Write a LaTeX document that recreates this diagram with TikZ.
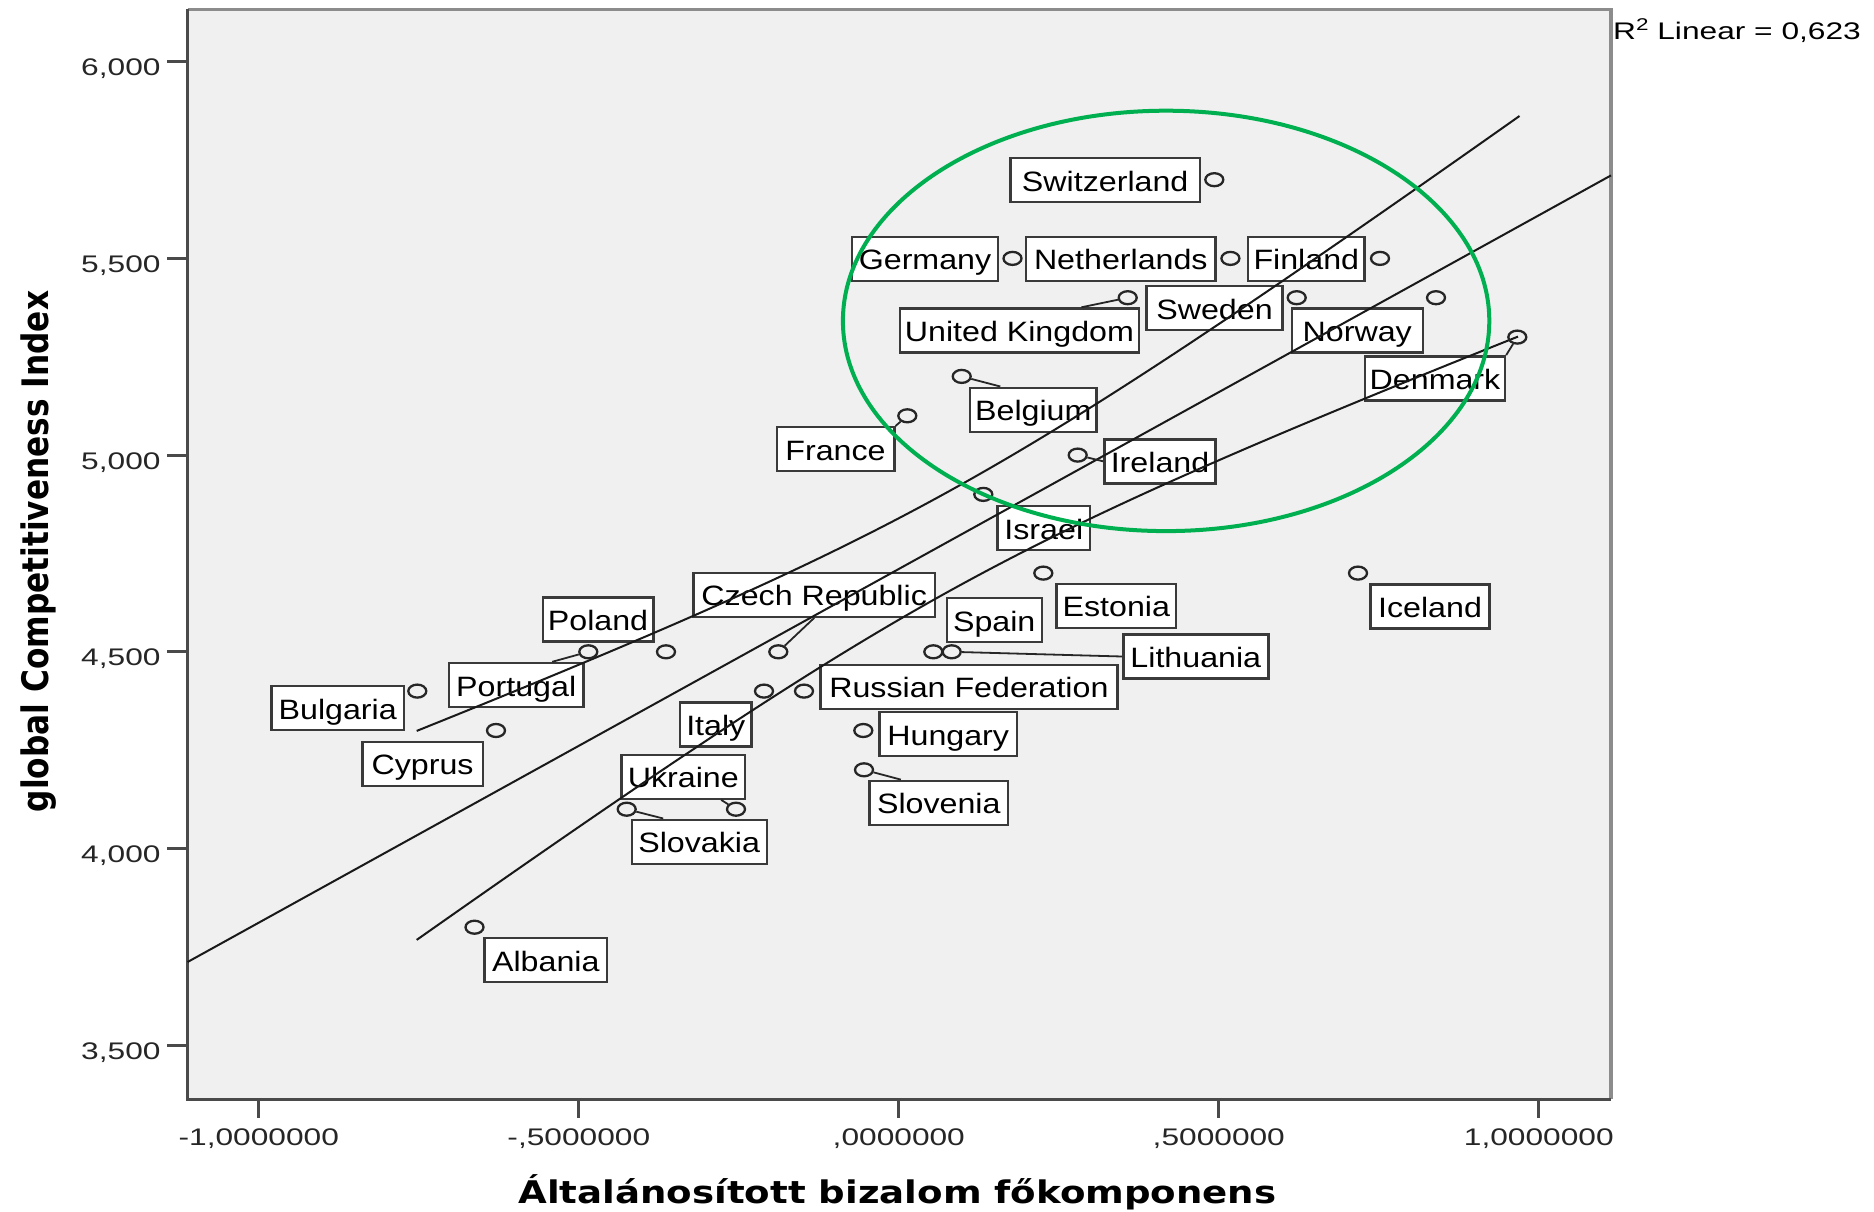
\documentclass[tikz,border=0pt]{standalone}
\usepackage{fontspec}
\usepackage{graphicx}
\usetikzlibrary{shapes.geometric}
\newfontfamily\labfont[FakeStretch=1.15]{Liberation Sans}
\newfontfamily\tickfont[FakeStretch=1.32]{Liberation Sans}
\newfontfamily\xtitlefont[FakeStretch=1.19]{DejaVu Sans}
\newfontfamily\ytitlefont{DejaVu Sans}
\definecolor{plotbg}{HTML}{F0F0F0}
\definecolor{boxgray}{HTML}{3A3A3A}
\definecolor{ringgreen}{HTML}{00B050}
\definecolor{framedark}{HTML}{4A4A4A}
\definecolor{framelight}{HTML}{8C8C8C}
\begin{document}
\begin{tikzpicture}[x=1pt,y=-1pt,
  lab/.style={draw=boxgray, fill=white, line width=2.4pt, rectangle, inner sep=0pt,
    minimum height=44pt, font=\labfont\fontsize{28}{28}\selectfont,
    text height=27pt, text depth=5pt},
  pt/.style={draw=black!85, line width=2.3pt, ellipse, inner sep=0pt,
    minimum width=18pt, minimum height=13pt},
  leader/.style={draw=black!85, line width=1.8pt},
  band/.style={draw=black!90, line width=2pt},
  ytick/.style={font=\tickfont\fontsize{24}{24}\selectfont, anchor=base east, text=black!85, inner sep=0pt},
  xtick/.style={font=\tickfont\fontsize{24}{24}\selectfont, anchor=base, text=black!85, inner sep=0pt},
  tickline/.style={draw=framedark, line width=3pt}
]
\useasboundingbox (0,0) rectangle (1874,1212);
\fill[white] (0,0) rectangle (1874,1212);
% plot area
\fill[plotbg] (187.6,9.5) rectangle (1611,1099);
\draw[framelight, line width=3.5pt] (187.6,9.5) -- (1611,9.5) -- (1611,1099);
\draw[framedark, line width=3pt] (187.6,9.5) -- (187.6,1099) -- (1611,1099);

% y ticks
\draw[tickline] (167.4,61.7) -- (187.6,61.7);
\draw[tickline] (167.4,258.4) -- (187.6,258.4);
\draw[tickline] (167.4,455.1) -- (187.6,455.1);
\draw[tickline] (167.4,651.8) -- (187.6,651.8);
\draw[tickline] (167.4,848.5) -- (187.6,848.5);
\draw[tickline] (167.4,1045.2) -- (187.6,1045.2);
\node[ytick] (yt6000) at (160.7,75.7) {6,000};
\node[ytick] (yt5500) at (160.7,272.4) {5,500};
\node[ytick] (yt5000) at (160.7,469.1) {5,000};
\node[ytick] (yt4500) at (160.7,665.8) {4,500};
\node[ytick] (yt4000) at (160.7,862.5) {4,000};
\node[ytick] (yt3500) at (160.7,1059.2) {3,500};

% x ticks
\draw[tickline] (258.8,1099) -- (258.8,1118);
\draw[tickline] (578.8,1099) -- (578.8,1118);
\draw[tickline] (898.8,1099) -- (898.8,1118);
\draw[tickline] (1218.8,1099) -- (1218.8,1118);
\draw[tickline] (1538.8,1099) -- (1538.8,1118);
\node[xtick] (xtm1) at (258.8,1145.7) {-1,0000000};
\node[xtick] (xtm05) at (578.8,1145.7) {-,5000000};
\node[xtick] (xt0) at (898.8,1145.7) {,0000000};
\node[xtick] (xt05) at (1218.8,1145.7) {,5000000};
\node[xtick] (xt1) at (1538.8,1145.7) {1,0000000};

% axis titles
\node[font=\xtitlefont\bfseries\fontsize{31.2}{31.2}\selectfont, anchor=base, inner sep=0pt] (xtitle)
  at (897.4,1203.3) {Általánosított bizalom főkomponens};
\node[rotate=90, anchor=base, inner sep=0pt] (ytitle) at (48.6,551.5)
  {\scalebox{1}[1.17]{\ytitlefont\bfseries\fontsize{31.2}{31.2}\selectfont global Competitiveness Index}};

% R2
\node[font=\tickfont\fontsize{24}{24}\selectfont, anchor=base west, inner sep=0pt] (r2) at (1613,40)
  {R\raisebox{9pt}{\fontsize{17}{17}\selectfont 2} Linear = 0,623};

% label boxes
\node[lab, minimum width=189.7pt] (l-che) at (1105.2,180) {Switzerland};
\node[lab, minimum width=146.4pt] (l-deu) at (925,258.9) {Germany};
\node[lab, minimum width=189.7pt] (l-nld) at (1120.8,258.9) {Netherlands};
\node[lab, minimum width=116.1pt] (l-fin) at (1306.3,258.9) {Finland};
\node[lab, minimum width=238.8pt] (l-gbr) at (1019.4,330.5) {United Kingdom};
\node[lab, minimum width=136.2pt] (l-swe) at (1214.5,308) {Sweden};
\node[lab, minimum width=131pt] (l-nor) at (1357.2,330.5) {Norway};
\node[lab, minimum width=140pt] (l-dnk) at (1435,378.3) {Denmark};
\node[lab, minimum width=126.7pt] (l-bel) at (1033.3,409.7) {Belgium};
\node[lab, minimum width=117.6pt] (l-fra) at (835.5,449.2) {France};
\node[lab, minimum width=111.3pt] (l-irl) at (1160,461.3) {Ireland};
\node[lab, minimum width=92.3pt] (l-isr) at (1043.8,528) {Israel};
\node[lab, minimum width=241.7pt] (l-cze) at (814.2,594.7) {Czech Republic};
\node[lab, minimum width=95pt] (l-esp) at (994.2,620) {Spain};
\node[lab, minimum width=119.3pt] (l-est) at (1116.3,605.8) {Estonia};
\node[lab, minimum width=118.7pt] (l-isl) at (1430,606.3) {Iceland};
\node[lab, minimum width=145pt] (l-ltu) at (1195.8,656.5) {Lithuania};
\node[lab, minimum width=296.9pt] (l-rus) at (968.9,686.8) {Russian Federation};
\node[lab, minimum width=137.5pt] (l-hun) at (948.2,734.2) {Hungary};
\node[lab, minimum width=138.4pt] (l-svn) at (938.8,802.8) {Slovenia};
\node[lab, minimum width=71.7pt] (l-ita) at (715.8,724.3) {Italy};
\node[lab, minimum width=123.3pt] (l-ukr) at (683.3,776.7) {Ukraine};
\node[lab, minimum width=135pt] (l-svk) at (699.2,841.7) {Slovakia};
\node[lab, minimum width=110.6pt] (l-pol) at (598,619.5) {Poland};
\node[lab, minimum width=134.3pt] (l-prt) at (516.2,685) {Portugal};
\node[lab, minimum width=132.6pt] (l-bgr) at (337.7,708) {Bulgaria};
\node[lab, minimum width=120.2pt] (l-cyp) at (422.6,763.8) {Cyprus};
\node[lab, minimum width=122.7pt] (l-alb) at (545.8,960) {Albania};

% fit line and confidence bands
\draw[band] (187.6,962) -- (1611,175.4);
\draw[band] plot[domain=416.7:1519.5, samples=80, smooth]
  (\x, {962-0.5526*(\x-187.6)-sqrt(2500+296*((\x-950)/100)^2)});
\draw[band] plot[domain=416.7:1518, samples=80, smooth]
  (\x, {962-0.5526*(\x-187.6)+sqrt(2500+296*((\x-950)/100)^2)});

% data points
\node[pt] (c-che) at (1214.3,179.7) {};
\node[pt] (c-deu) at (1012.5,258.4) {};
\node[pt] (c-nld) at (1230.4,258.4) {};
\node[pt] (c-fin) at (1380,258.4) {};
\node[pt] (c-gbr) at (1127.7,297.7) {};
\node[pt] (c-swe) at (1296.7,297.7) {};
\node[pt] (c-nor) at (1436,297.7) {};
\node[pt] (c-dnk) at (1517.3,337.1) {};
\node[pt] (c-bel) at (961.7,376.4) {};
\node[pt] (c-fra) at (907.3,415.8) {};
\node[pt] (c-irl) at (1077.7,455.1) {};
\node[pt] (c-isr) at (983.3,494.4) {};
\node[pt] (c-est) at (1043.3,573.1) {};
\node[pt] (c-isl) at (1358,573.1) {};
\node[pt] (c-cze) at (778.3,651.8) {};
\node[pt] (c-esp) at (933.3,651.8) {};
\node[pt] (c-ltu) at (951.7,651.8) {};
\node[pt] (c-pol) at (666,651.8) {};
\node[pt] (c-prt) at (588.3,651.8) {};
\node[pt] (c-rus) at (804,691.1) {};
\node[pt] (c-ita) at (764,691.1) {};
\node[pt] (c-bgr) at (417.3,691.1) {};
\node[pt] (c-cyp) at (496,730.5) {};
\node[pt] (c-hun) at (863.3,730.5) {};
\node[pt] (c-svn) at (864,769.8) {};
\node[pt] (c-svk) at (626.7,809.2) {};
\node[pt] (c-ukr) at (736,809.2) {};
\node[pt] (c-alb) at (474.5,927.2) {};

% leader lines
\draw[leader] (c-gbr) -- ([xshift=62pt]l-gbr.north);
\draw[leader] (c-bel) -- ([xshift=-33pt]l-bel.north);
\draw[leader] (c-fra) -- (l-fra.north east);
\draw[leader] (c-irl) -- (l-irl.west);
\draw[leader] (c-dnk) -- (l-dnk.north east);
\draw[leader] (c-cze) -- (l-cze.south);
\draw[leader] (c-ltu) -- (l-ltu.west);
\draw[leader] (c-prt) -- ([xshift=36pt]l-prt.north);
\draw[leader] (c-svk) -- ([xshift=-36pt]l-svk.north);
\draw[leader] (c-ukr) -- ([xshift=-25pt]l-ukr.south east);
\draw[leader] (c-svn) -- ([xshift=-38pt]l-svn.north);

% green highlight ellipse
\draw[ringgreen, line width=4pt] (1166.1,320.9) ellipse [x radius=323.2pt, y radius=210.2pt];
\end{tikzpicture}
\end{document}
